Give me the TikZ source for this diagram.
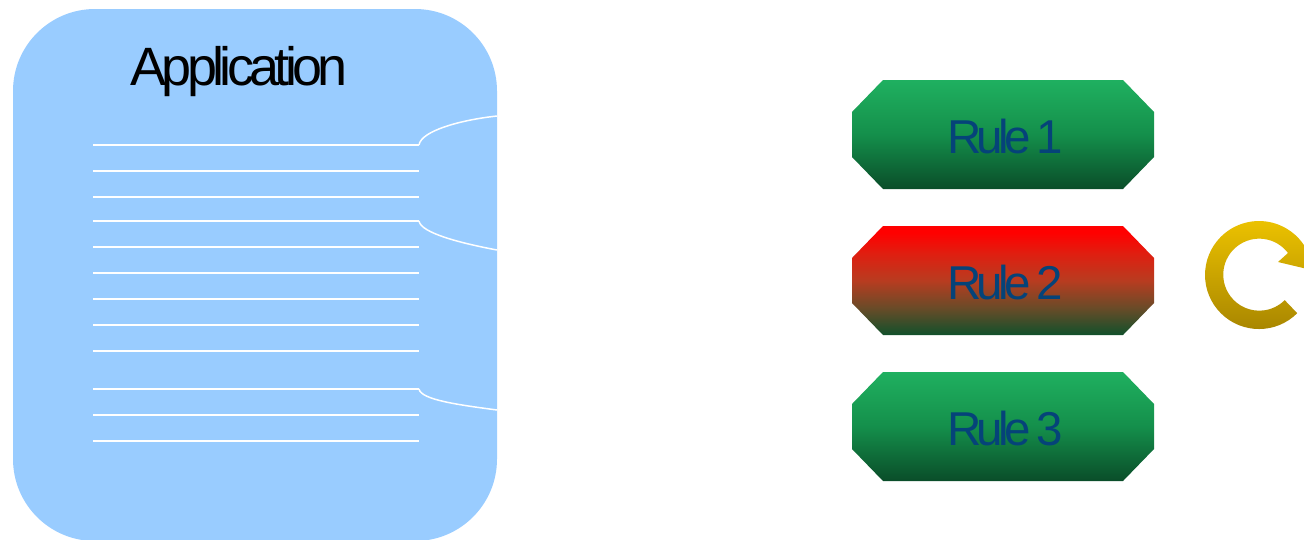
\documentclass[tikz,border=0pt]{standalone}
\usepackage{fontspec}
\setmainfont{Liberation Sans}
\newfontfamily\tightfont[LetterSpace=-8.6]{Liberation Sans}
\newfontfamily\rulefont[LetterSpace=-10,WordSpace=0.75]{Liberation Sans}
\definecolor{panelblue}{HTML}{99CCFF}
\definecolor{gtop}{HTML}{1FB060}
\definecolor{gup}{HTML}{1AA055}
\definecolor{gmid}{HTML}{148F4B}
\definecolor{glow}{HTML}{0F6E3A}
\definecolor{gbot}{HTML}{0A4D29}
\definecolor{rup}{HTML}{E01E10}
\definecolor{rmid}{HTML}{B83C20}
\definecolor{rlow}{HTML}{6A4B28}
\definecolor{rbot}{HTML}{11502B}
\definecolor{ruletext}{HTML}{054379}
\definecolor{goldtop}{HTML}{EDC300}
\definecolor{goldbot}{HTML}{A68400}
\pgfdeclareverticalshading{greenrule}{100bp}{color(0bp)=(gbot); color(25bp)=(gbot); color(37.5bp)=(glow); color(50bp)=(gmid); color(62.5bp)=(gup); color(75bp)=(gtop); color(100bp)=(gtop)}
\pgfdeclareverticalshading{redrule}{100bp}{color(0bp)=(rbot); color(25bp)=(rbot); color(37.5bp)=(rlow); color(50bp)=(rmid); color(62.5bp)=(rup); color(72bp)=(red); color(100bp)=(red)}
\tikzset{
  codeline/.style={draw=white,line width=1.5pt},
  rulegreen/.style={shading=greenrule,draw=none},
  rulered/.style={shading=redrule,draw=none},
  ruletextstyle/.style={text=ruletext,font=\rulefont\fontsize{47.5}{50}\selectfont,anchor=base west,inner sep=0pt},
  apptext/.style={text=black,font=\tightfont\fontsize{54}{56}\selectfont,anchor=base west,inner sep=0pt}
}
\newcommand{\rulebox}[2]{%
  \shade[#2] (883,#1) -- (1123,#1) -- (1154,#1+32) -- (1154,#1+77) -- (1123,#1+109) -- (883,#1+109) -- (852,#1+77) -- (852,#1+32) -- cycle;}
\begin{document}
\begin{tikzpicture}[x=1pt,y=-1pt]
\useasboundingbox (0,0) rectangle (1304,539);
\clip (0,0) rectangle (1304,539);
\fill[white] (0,0) rectangle (1304,539);
% application panel
\fill[panelblue,rounded corners=82pt] (13,9) rectangle (497,541);
\node[apptext] (app) at (130,85.5) {Application};
\foreach \yy in {145,171,197,221,247,273,299,325,351,389,415,441}
  \draw[codeline] (93,\yy) -- (419,\yy);
\draw[codeline] (419,145) .. controls (421,131) and (460,120) .. (497,116);
\draw[codeline] (419,221) .. controls (421,233) and (460,243) .. (497,250);
\draw[codeline] (419,389) .. controls (421,400) and (460,405) .. (497,410);
% rules
\rulebox{80}{rulegreen}
\rulebox{226}{rulered}
\rulebox{372}{rulegreen}
\node[ruletextstyle] (r1) at (947,153) {Rule 1};
\node[ruletextstyle] (r2) at (947,299) {Rule 2};
\node[ruletextstyle] (r3) at (947,445) {Rule 3};
% circular arrow
\shade[top color=goldtop,bottom color=goldbot,draw=none]
  (1297.2,313.2) arc[start angle=45,end angle=328,radius=54]
  -- (1320,272) -- (1278,262) -- (1288,253)
  arc[start angle=323,end angle=45,radius=36] -- cycle;
\end{tikzpicture}
\end{document}
